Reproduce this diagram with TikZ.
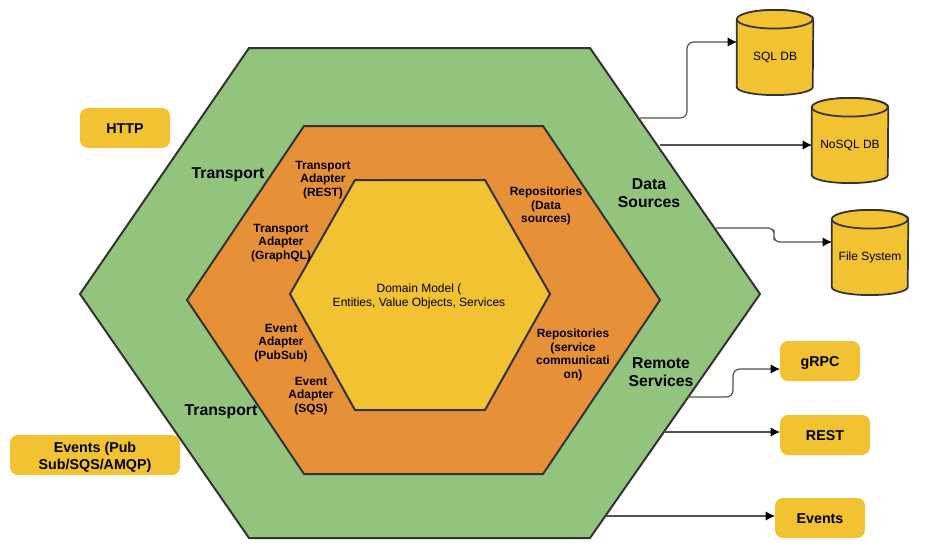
\documentclass[tikz,border=0pt]{standalone}
\usepackage{fontspec}
\setmainfont{Liberation Sans}
\usetikzlibrary{arrows.meta,calc}
\definecolor{hexgreen}{HTML}{93C47D}
\definecolor{hexorange}{HTML}{E69138}
\definecolor{boxyellow}{HTML}{F1C232}
\definecolor{edgegrey}{HTML}{333333}
\tikzset{
  hexa/.style={draw=edgegrey,line width=1.5pt,line join=miter},
  pill/.style={fill=boxyellow,rounded corners=6pt,inner sep=0pt,align=center,font=\fontsize{10.7}{13}\selectfont\bfseries},
  oneline/.style={text height=8.4pt,text depth=0pt},
  dbase/.style={inner sep=0pt,minimum width=57pt,minimum height=63.5pt,font=\fontsize{9}{11}\selectfont},
  dbline/.style={draw=edgegrey,line width=1.3pt,fill=boxyellow},
  ring/.style={align=center,font=\fontsize{11.8}{13.5}\selectfont\bfseries,inner sep=0pt},
  adapter/.style={align=center,font=\fontsize{8.95}{10.3}\selectfont\bfseries,inner sep=0pt},
  link/.style={draw=edgegrey!85,line width=.9pt,rounded corners=5pt,-{Latex[length=7pt,width=7pt,black]}},
}
% #1 node name, #2 node centre, #3 text centred lower in the body
\newcommand{\dbcyl}[3]{%
  \node[dbase] (#1) at #2 {};
  \draw[dbline] (#1.north west) ++(0,-7pt) -- ($(#1.south west)+(0,6pt)$)
     arc[start angle=180,end angle=360,x radius=28.5pt,y radius=6pt]
     -- ($(#1.north east)+(0,-7pt)$)
     arc[start angle=0,end angle=180,x radius=28.5pt,y radius=7pt] -- cycle;
  \draw[dbline] ($(#1.north west)+(0,-7pt)$)
     arc[start angle=180,end angle=540,x radius=28.5pt,y radius=7pt];
  \node[dbase,minimum width=0pt,minimum height=0pt] (#1label) at ($(#1.center)+(0,-3.4pt)$) {#3};
}
\begin{document}
\begin{tikzpicture}[x=0.75pt,y=-0.75pt]
\useasboundingbox (0,0) rectangle (927,558);
% hexagons
\draw[hexa,fill=hexgreen] (80,294) -- (249,48) -- (590,48) -- (760,294) -- (590,538) -- (249,538) -- cycle;
\draw[hexa,fill=hexorange] (187,300) -- (304,126) -- (543,126) -- (660,300) -- (543,474) -- (304,474) -- cycle;
\draw[hexa,fill=boxyellow] (290,294) -- (355,180) -- (485,180) -- (550,294) -- (485,410) -- (355,410) -- cycle;
% pills
\node[pill,oneline,minimum width=67.5pt,minimum height=30pt] (http) at (125,128) {HTTP};
\node[pill,minimum width=127.5pt,minimum height=30pt] (evsrc) at (95,455) {\rule{0pt}{11pt}Events (Pub\\Sub/SQS/AMQP)};
\node[pill,oneline,minimum width=60pt,minimum height=30pt] (grpc) at (820,361) {gRPC};
\node[pill,oneline,minimum width=67.5pt,minimum height=30pt] (rest) at (825,435) {REST};
\node[pill,oneline,minimum width=67.5pt,minimum height=30pt] (events) at (820,518) {Events};
% databases
\dbcyl{sql}{(775,52.5)}{SQL DB}
\dbcyl{nosql}{(850,140.5)}{NoSQL DB}
\dbcyl{files}{(870,252.5)}{File System}
% labels
\node[ring] (t1) at (228,174.5) {Transport};
\node[ring] (t2) at (221,411.5) {Transport};
\node[ring] (ds) at (649,193) {Data\\Sources};
\node[ring] (rs) at (661,372) {Remote\\Services};
\node[adapter] (a1) at (323,180) {Transport\\Adapter\\(REST)};
\node[adapter] (a2) at (281,243) {Transport\\Adapter\\(GraphQL)};
\node[adapter] (a3) at (281,343) {Event\\Adapter\\(PubSub)};
\node[adapter] (a4) at (311,396) {Event\\Adapter\\(SQS)};
\node[adapter] (r1) at (546,206) {Repositories\\(Data\\sources)};
\node[adapter] (r2) at (573,355) {Repositories\\(service\\communicati\\on)};
\node[align=center,inner sep=0pt,font=\fontsize{9}{10.6}\selectfont] (dm) at (419,296.5) {Domain Model (\\Entities, Value Objects, Services};
% connector ends
\coordinate (s1) at (640,118);
\coordinate (s2) at (660,145);
\coordinate (s3) at (716,228);
\coordinate (s4) at (688,397);
\coordinate (s5) at (664,432);
\coordinate (s6) at (606,516);
\coordinate (e1) at (737,42);
\coordinate (e2) at (812,145);
\coordinate (e3) at (832,242);
\coordinate (e4) at (780,369);
\coordinate (e5) at (780,432);
\coordinate (e6) at (775,516);
% connectors
\draw[link] (s1) -| (687,80) |- (e1);
\draw[link] (s2) -- (e2);
\draw[link,rounded corners=4pt] (s3) -| (774,235) |- (e3);
\draw[link] (s4) -| (733,383) |- (e4);
\draw[link] (s5) -- (e5);
\draw[link] (s6) -- (e6);
\end{tikzpicture}
\end{document}
